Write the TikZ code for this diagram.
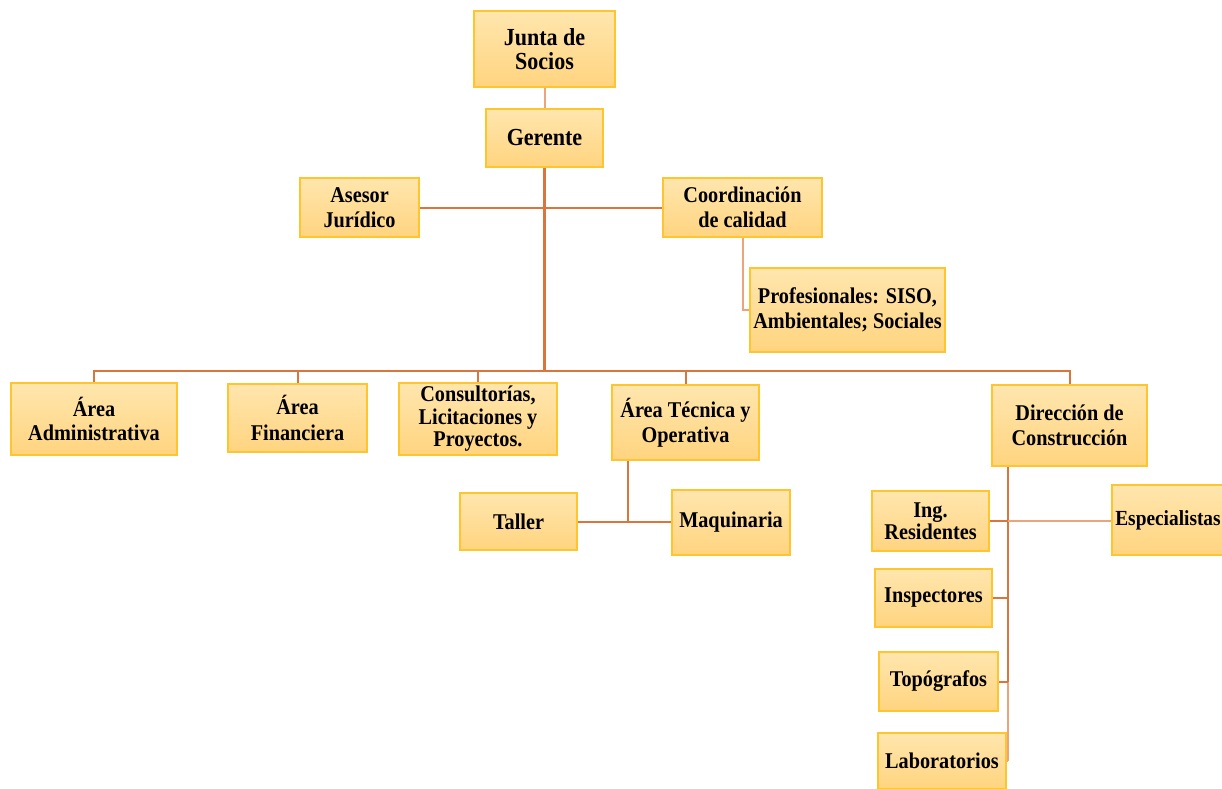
\documentclass[tikz,border=0pt]{standalone}
\usepackage{fontspec}
\setmainfont{Liberation Serif}
\newfontfamily\boxfont[FakeStretch=0.9]{Liberation Serif}
\definecolor{boxtop}{HTML}{FFE6AE}
\definecolor{boxbot}{HTML}{FFD47F}
\definecolor{boxline}{HTML}{FFC52E}
\definecolor{linedark}{HTML}{D9763E}
\definecolor{linelight}{HTML}{EBA57C}
\tikzset{
  orgbox/.style={draw=boxline, line width=1.8pt, top color=boxtop, bottom color=boxbot,
    inner sep=0pt, align=center, font=\boxfont\fontsize{22.5}{24.5}\selectfont\bfseries},
  bigtext/.style={font=\boxfont\fontsize{24.5}{24.5}\selectfont\bfseries},
  edgetext/.style={font=\boxfont\fontsize{21.5}{24}\selectfont\bfseries},
  link/.style={draw=linedark, line width=2pt},
  lightlink/.style={draw=linelight, line width=2pt},
  trunk/.style={draw=linedark, line width=2.8pt},
}
\begin{document}
\begin{tikzpicture}[x=1pt,y=-1pt]
\useasboundingbox (0,0) rectangle (1222,788);
\begin{scope}
\clip (0,0) rectangle (1222,788);
% nodes
\node[orgbox, bigtext, minimum width=141, minimum height=76] (junta) at (544.5,49) {Junta de\\Socios};
\node[orgbox, bigtext, minimum width=117, minimum height=58] (gerente) at (544.5,138) {Gerente};
\node[orgbox, minimum width=119, minimum height=59] (asesor) at (359.5,207.5) {Asesor\\Jurídico};
\node[orgbox, minimum width=159, minimum height=59] (coord) at (742.5,207.5) {Coordinación\\[1pt]de calidad};
\node[orgbox, minimum width=195, minimum height=84] (prof) at (847.5,310) {Profesionales: SISO,\\Ambientales; Sociales};
\node[orgbox, minimum width=166, minimum height=72] (admin) at (94,419) {Área\\Administrativa};
\node[orgbox, minimum width=139, minimum height=68] (finan) at (297.5,418) {Área\\[2pt]Financiera};
\node[orgbox, minimum width=158, minimum height=72] (consult) at (478,419) {Consultorías,\\[-2pt]Licitaciones y\\[-2pt]Proyectos.};
\node[orgbox, minimum width=147, minimum height=75] (tecnica) at (685.5,422.5) {Área Técnica y\\Operativa};
\node[orgbox, minimum width=155, minimum height=81] (direccion) at (1069.5,425.5) {Dirección de\\Construcción};
\node[orgbox, minimum width=117, minimum height=57] (taller) at (518.5,521.5) {Taller};
\node[orgbox, minimum width=118, minimum height=65] (maq) at (731,522.5) {Maquinaria};
\node[orgbox, minimum width=117, minimum height=60] (ingres) at (930.5,521) {Ing.\\[-2pt]Residentes};
\node[orgbox, edgetext, minimum width=120, minimum height=70] (especial) at (1172,520) {Especialistas\hspace*{8pt}};
\node[orgbox, minimum width=117, minimum height=58] (inspect) at (933.5,598) {Inspectores};
\node[orgbox, minimum width=119, minimum height=59] (topo) at (938.5,681.5) {Topógrafos};
\node[orgbox, minimum width=128, minimum height=56] (lab) at (942,761) {Laboratorios};
% helper coordinates
\coordinate (bus) at (544.5,371);
\coordinate (tj) at (628,522);
\coordinate (dx) at (1008,0);
% connectors
\draw[lightlink] (junta) -- (gerente);
\draw[trunk] (gerente.south) -- (bus);
\draw[link] (asesor.east) -- (coord.west);
\draw[lightlink] (coord.south) |- (prof.west);
\draw[link] (admin.north) |- (bus) -| (direccion.north);
\draw[link] (finan.north) -- (finan.north |- bus);
\draw[link] (consult.north) -- (consult.north |- bus);
\draw[link] (tecnica.north) -- (tecnica.north |- bus);
\draw[link] (tecnica.south -| tj) -- (tj);
\draw[link] (taller.east |- tj) -- (maq.west |- tj);
\draw[trunk] (direccion.south -| dx) -- (topo.east -| dx);
\draw[lightlink] (topo.east -| dx) -- (lab.east -| dx);
\draw[lightlink] (ingres.east -| dx) -- (especial.west |- ingres.east);
\draw[link] (ingres.east) -- (ingres.east -| dx);
\draw[link] (inspect.east) -- (inspect.east -| dx);
\draw[link] (topo.east) -- (topo.east -| dx);
\draw[lightlink] (lab.east) -- (lab.east -| dx);
\end{scope}
\end{tikzpicture}
\end{document}
